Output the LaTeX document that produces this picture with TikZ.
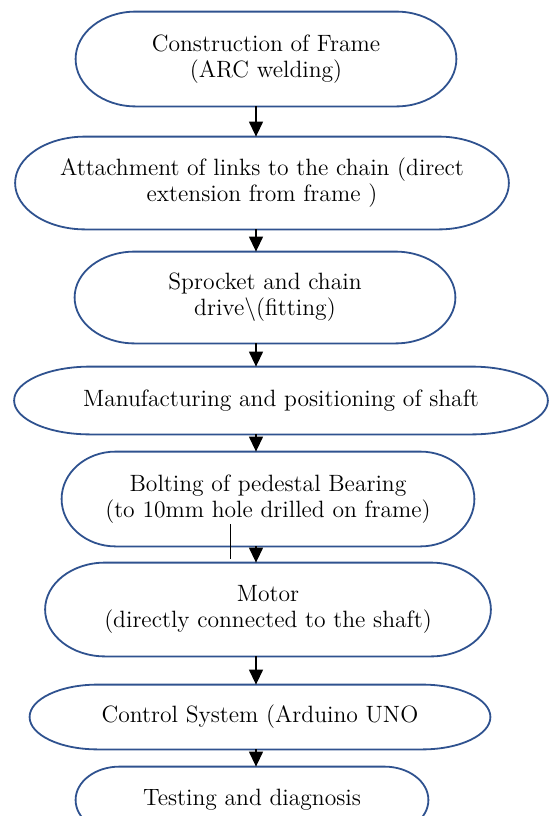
\documentclass[tikz,border=0pt]{standalone}
\usepackage{tikz}
\usetikzlibrary{arrows.meta,calc}

\definecolor{capblue}{RGB}{47,82,143}

\tikzset{
	stage/.style={align=center, font=\fontsize{11.8}{13}\selectfont},
	capline/.style={draw=capblue, line width=0.9pt},
	flow/.style={-{Triangle[width=7pt,length=7.5pt]}, line width=0.65pt},
}

% outline with half-elliptic ends round a node: #1 node, #2 end radius
\newcommand{\capsule}[2]{%
	\draw[capline] let \p1=(#1.north west), \p2=(#1.south east), \n1={(\y1-\y2)/2} in
		(\x1+#2,\y1) -- (\x2-#2,\y1) arc[start angle=90,end angle=-90,x radius=#2,y radius=\n1*1pt]
		-- (\x1+#2,\y2) arc[start angle=270,end angle=90,x radius=#2,y radius=\n1*1pt] -- cycle;}

\begin{document}
\begin{tikzpicture}[x=0.5pt,y=-0.5pt]
		\useasboundingbox (0,0) rectangle (549,816);
		\node[stage, minimum width=190pt, minimum height=47pt] (frame) at (266,59) {Construction of Frame\\(ARC welding)};
		\node[stage, minimum width=246.5pt, minimum height=46pt] (links) at (262,183) {Attachment of links to the chain (direct\\extension from frame )};
		\node[stage, minimum width=190pt, minimum height=45.5pt] (sprocket) at (265,297.5) {Sprocket and chain\\drive\textbackslash(fitting)};
		\node[stage, minimum width=266.5pt, minimum height=33.5pt] (shaft) at (281,400.5) {Manufacturing and positioning of shaft};
		\node[stage, minimum width=206pt, minimum height=47pt] (bearing) at (268,499) {Bolting of pedestal Bearing\\(to 10mm hole drilled on frame)};
		\node[stage, minimum width=222.5pt, minimum height=46.5pt] (motor) at (268,609.5) {Motor\\(directly connected to the shaft)};
		\node[stage, minimum width=230pt, minimum height=32pt] (control) at (260,717) {Control System (Arduino UNO};
		\node[stage, minimum width=176pt, minimum height=33pt] (testing) at (252,800) {Testing and diagnosis};
		\capsule{frame}{30pt}
		\capsule{links}{35pt}
		\capsule{sprocket}{30pt}
		\capsule{shaft}{38pt}
		\capsule{bearing}{27pt}
		\capsule{motor}{30pt}
		\capsule{control}{34pt}
		\capsule{testing}{22pt}
		\coordinate (spine) at (256,0);
		\draw[flow] (frame.south -| spine) -- (links.north -| spine);
		\draw[flow] (links.south -| spine) -- (sprocket.north -| spine);
		\draw[flow] (sprocket.south -| spine) -- (shaft.north -| spine);
		\draw[flow] (shaft.south -| spine) -- (bearing.north -| spine);
		\draw[flow] (bearing.south -| spine) -- (motor.north -| spine);
		\draw[flow] (motor.south -| spine) -- (control.north -| spine);
		\draw[flow] (control.south -| spine) -- (testing.north -| spine);
		% stray tick below the bearing text
		\coordinate (tick top) at (230,524);
		\coordinate (tick end) at (230,559);
		\draw[line width=0.5pt] (tick top) -- (tick end);
\end{tikzpicture}
\end{document}
